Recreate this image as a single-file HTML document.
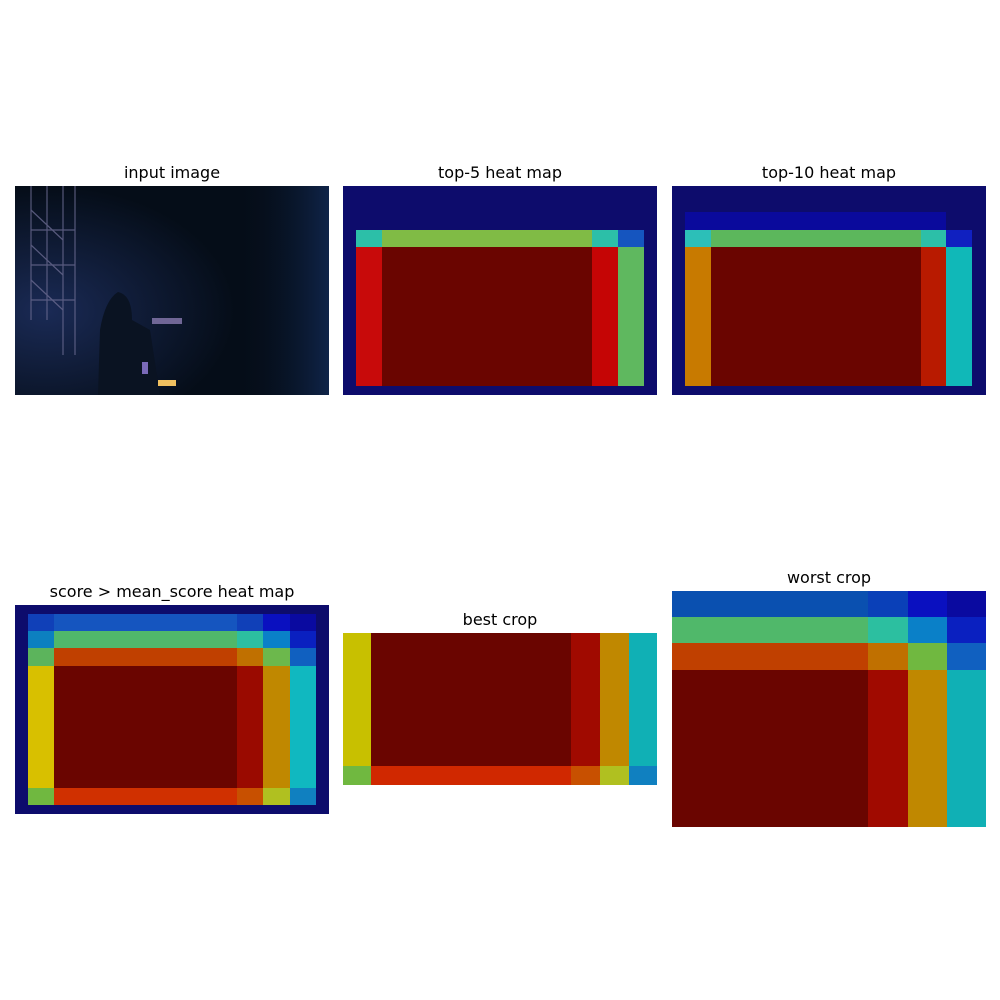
<!DOCTYPE html>
<html>
<head>
<meta charset="utf-8">
<style>
html,body{margin:0;padding:0;background:#fff;}
svg{display:block;}
text{font-family:"DejaVu Sans","Liberation Sans",sans-serif;font-size:16px;fill:#000;}
</style>
</head>
<body>
<svg id="fig" width="1000" height="1000" viewBox="0 0 1000 1000" xmlns="http://www.w3.org/2000/svg">
  <defs>
    <radialGradient id="glow" cx="0.1" cy="0.6" r="0.6">
      <stop offset="0" stop-color="#1a2a55"/>
      <stop offset="1" stop-color="#050d18"/>
    </radialGradient>
    <linearGradient id="rglow" x1="0" x2="1">
      <stop offset="0.7" stop-color="#050d18" stop-opacity="0"/>
      <stop offset="1" stop-color="#122a55" stop-opacity="0.8"/>
    </linearGradient>
  </defs>
  <rect x="0" y="0" width="1000" height="1000" fill="#fff"/>

  <!-- input image panel -->
  <g>
    <text x="172" y="178" text-anchor="middle">input image</text>
    <rect x="15" y="186" width="314" height="209" fill="url(#glow)"/>
    <rect x="15" y="186" width="314" height="209" fill="url(#rglow)"/>
    <g stroke="#6a6a90" stroke-width="1.2" opacity="0.8">
      <line x1="31" y1="186" x2="31" y2="320"/>
      <line x1="47" y1="186" x2="47" y2="320"/>
      <line x1="63" y1="186" x2="63" y2="355"/>
      <line x1="75" y1="186" x2="75" y2="355"/>
      <line x1="31" y1="210" x2="63" y2="240"/>
      <line x1="31" y1="245" x2="63" y2="275"/>
      <line x1="31" y1="280" x2="63" y2="310"/>
      <line x1="31" y1="230" x2="75" y2="230"/>
      <line x1="31" y1="265" x2="75" y2="265"/>
      <line x1="31" y1="300" x2="75" y2="300"/>
    </g>
    <path d="M98 395 L100 330 Q105 300 118 292 Q132 295 132 320 L150 330 L160 395 Z" fill="#0a1322"/>
    <rect x="152" y="318" width="30" height="6" fill="#8a7ab0" opacity="0.8"/>
    <rect x="142" y="362" width="6" height="12" fill="#7a6ab8"/>
    <rect x="158" y="380" width="18" height="6" fill="#f0c060"/>
  </g>

  <g id="panels"></g>
</svg>

<script>
// ---- heat-map data (cell edges + cell colours) ----
// top-5 heat map
const top5Bg = "#0d0c6c";
const top5Xs = [356, 382, 592, 618, 644];
const top5Ys = [230, 247, 386];
const top5Colors = [
  ["#2cbfa8", "#80bb45", "#2cbfa8", "#1555bf"],
  ["#c80a0a", "#6a0500", "#c50505", "#5fb85f"]
];
// top-10 heat map
const top10Bg = "#0d0c6c";
const top10Xs = [685, 711, 921, 946, 972];
const top10Ys = [212, 230, 247, 386];
const top10Colors = [
  ["#0a0a9c", "#0a0a9c", "#0a0a9c", null],
  ["#2cbfb8", "#5cb75c", "#2cbfa8", "#1020c0"],
  ["#c87a00", "#6a0500", "#b81a00", "#10b8b8"]
];
// score > mean_score heat map
const meanBg = "#0d0c6c";
const meanXs = [28, 54, 237, 263, 290, 316];
const meanYs = [614, 631, 648, 666, 788, 805];
const meanColors = [
  ["#1040b8", "#1555bf", "#1040b8", "#0a10c0", "#0a0aa0"],
  ["#0c80c0", "#50b86a", "#2cbfa0", "#0a80c8", "#0a20c0"],
  ["#5cb45c", "#c04000", "#c07000", "#6cb84c", "#1060c0"],
  ["#d8c000", "#6a0500", "#9a0a00", "#c08800", "#10b8c0"],
  ["#70b840", "#d03000", "#c85000", "#b0c020", "#1080c0"]
];
// best crop
const bestXs = [343, 371, 571, 600, 629, 657];
const bestYs = [633, 766, 785];
const bestColors = [
  ["#c8c000", "#6a0500", "#a00a00", "#c08800", "#10b0b5"],
  ["#70b840", "#d02800", "#c85000", "#b0c020", "#1080c0"]
];
// worst crop
const worstXs = [672, 868, 908, 947, 986];
const worstYs = [591, 617, 643, 670, 827];
const worstColors = [
  ["#0a50b0", "#0a40b8", "#0a10c0", "#0a0aa0"],
  ["#50b86a", "#2cbfa0", "#0a80c8", "#0a20c0"],
  ["#c04000", "#c07000", "#70b840", "#1060c0"],
  ["#6a0500", "#a00a00", "#c08800", "#10b0b5"]
];

const NS = "http://www.w3.org/2000/svg";
const root = document.getElementById("panels");

function mk(tag, attrs, parent) {
  const el = document.createElementNS(NS, tag);
  for (const k in attrs) el.setAttribute(k, attrs[k]);
  parent.appendChild(el);
  return el;
}

function panel(name, title, tx, ty, frame, bg, xs, ys, colors) {
  const g = mk("g", {}, root);
  
  
  const t = mk("text", {x: tx, y: ty, "text-anchor": "middle"}, g);
  t.textContent = title;
  
  
  if (bg) {
    const b = mk("rect", {x: frame[0], y: frame[1], width: frame[2], height: frame[3], fill: bg}, g);
    
    
  }
  for (let r = 0; r < colors.length; r++) {
    for (let c = 0; c < colors[r].length; c++) {
      const col = colors[r][c];
      if (!col) continue;
      const cell = mk("rect", {x: xs[c], y: ys[r], width: xs[c + 1] - xs[c], height: ys[r + 1] - ys[r], fill: col}, g);
      
      
    }
  }
}

panel("top5-heat-map", "top-5 heat map", 500, 178, [343, 186, 314, 209], top5Bg, top5Xs, top5Ys, top5Colors);
panel("top10-heat-map", "top-10 heat map", 829, 178, [672, 186, 314, 209], top10Bg, top10Xs, top10Ys, top10Colors);
panel("mean-score-heat-map", "score > mean_score heat map", 172, 597, [15, 605, 314, 209], meanBg, meanXs, meanYs, meanColors);
panel("best-crop", "best crop", 500, 625, null, null, bestXs, bestYs, bestColors);
panel("worst-crop", "worst crop", 829, 583, null, null, worstXs, worstYs, worstColors);
</script>
</body>
</html>
